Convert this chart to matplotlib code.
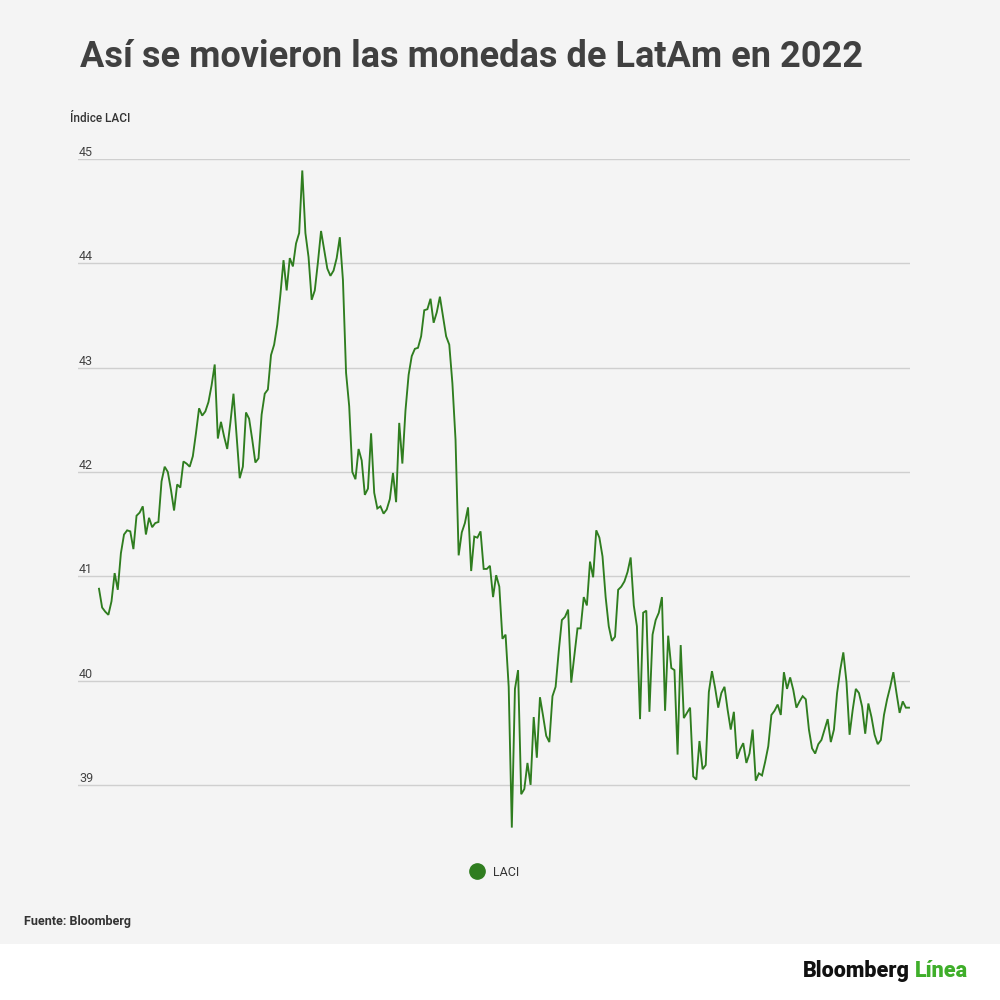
import numpy as np
import matplotlib
matplotlib.use("Agg")
import matplotlib.pyplot as plt
from matplotlib.lines import Line2D
from matplotlib.transforms import blended_transform_factory, offset_copy

# ---- data (LACI index, trading days 2022) ----
laci_part1 = [40.88, 40.70, 40.66, 40.63, 40.76, 41.03, 40.87, 41.22, 41.40, 41.44,
              41.43, 41.26, 41.58, 41.61, 41.67, 41.40, 41.56, 41.47, 41.51, 41.52,
              41.91, 42.05, 42.00, 41.83, 41.63, 41.88, 41.85, 42.10, 42.08, 42.05,
              42.15, 42.37, 42.61, 42.54, 42.58, 42.67, 42.83, 43.03, 42.32, 42.48,
              42.34, 42.22, 42.47, 42.75, 42.34, 41.94, 42.05, 42.57, 42.51, 42.31,
              42.09, 42.13, 42.55, 42.75, 42.79, 43.12, 43.22, 43.41, 43.70, 44.03,
              43.74, 44.05, 43.97, 44.19, 44.29, 44.89, 44.29, 44.06, 43.65, 43.74,
              44.01, 44.31, 44.13, 43.95, 43.88, 43.93, 44.05, 44.25, 43.84, 42.95,
              42.63, 42.00, 41.93]
laci_part2 = [42.22, 42.11, 41.78, 41.84, 42.37, 41.80, 41.65, 41.67, 41.60, 41.64,
              41.74, 41.99, 41.71, 42.47, 42.08, 42.59, 42.93, 43.11, 43.18, 43.19,
              43.30, 43.55, 43.56, 43.66, 43.43, 43.53, 43.68, 43.49, 43.30, 43.22,
              42.85, 42.31, 41.20, 41.42, 41.51, 41.66, 41.05, 41.38, 41.37, 41.43,
              41.07, 41.07, 41.10, 40.80, 41.01, 40.90, 40.40, 40.44, 39.94, 38.59,
              39.92, 40.10, 38.91, 38.96, 39.21, 39.00, 39.65, 39.26, 39.84, 39.66,
              39.47, 39.41, 39.85, 39.94, 40.28, 40.58, 40.61, 40.68, 39.98, 40.24,
              40.50, 40.50, 40.80, 40.72, 41.14, 40.99, 41.44, 41.37]
laci_part3 = [41.19, 40.80, 40.52, 40.38, 40.42, 40.87, 40.90, 40.95, 41.04, 41.18,
              40.72, 40.52, 39.63, 40.65, 40.67, 39.70, 40.44, 40.58, 40.65, 40.80,
              39.71, 40.43, 40.12, 40.10, 39.29, 40.34, 39.64, 39.69, 39.74, 39.08,
              39.05, 39.42, 39.15, 39.19, 39.89, 40.09, 39.93, 39.74, 39.88, 39.94,
              39.72, 39.53, 39.70, 39.25, 39.34, 39.40, 39.21, 39.30, 39.53, 39.04,
              39.11, 39.09, 39.22, 39.37, 39.67, 39.71, 39.77, 39.67, 40.08, 39.92,
              40.03, 39.91, 39.74, 39.80, 39.85, 39.82, 39.53, 39.35, 39.30, 39.39,
              39.43, 39.53, 39.63, 39.41, 39.53, 39.88, 40.10, 40.27, 39.99, 39.48,
              39.72, 39.92, 39.88, 39.75, 39.49, 39.78, 39.65, 39.48, 39.39, 39.43,
              39.67, 39.82, 39.94, 40.08, 39.88, 39.69, 39.80, 39.74, 39.74]
laci = laci_part1 + laci_part2 + laci_part3
days = list(range(len(laci)))
y_ticks = [39, 40, 41, 42, 43, 44, 45]
y_tick_labels = ["39", "40", "41", "42", "43", "44", "45"]
series_name = "LACI"
title = "Así se movieron las monedas de LatAm en 2022"
y_title = "Índice LACI"
source = "Fuente: Bloomberg"

# ---- style ----
plt.rcParams['font.family'] = ['Roboto', 'DejaVu Sans']
BG = "#f4f4f4"
GREEN = "#2f7d1f"
W, H = 1000, 1000
fig = plt.figure(figsize=(10, 10), dpi=100)
fig.patch.set_facecolor("white")

# gray panel (everything above footer)
fig.patches.append(plt.Rectangle((0, 1 - 944 / H), 1, 944 / H, transform=fig.transFigure,
                                 facecolor=BG, edgecolor="none", zorder=-5))

ax_left, ax_right = 78 / W, 910 / W
ax_top, ax_bottom = 159 / H, 837 / H
ax = fig.add_axes([ax_left, 1 - ax_bottom, ax_right - ax_left, ax_bottom - ax_top])
ax.set_facecolor("none")
ax.set_zorder(2)

ax.plot(days, laci, color=GREEN, lw=1.35, solid_joinstyle="miter", zorder=3)

ax.set_ylim(38.5, 45.0)
n = len(laci) - 1
px_per_day = 810 / n
ax.set_xlim(-21 / px_per_day, n + 1 / px_per_day)

for s in ax.spines.values():
    s.set_visible(False)
ax.set_xticks([])
ax.set_yticks(y_ticks)
ax.tick_params(axis="y", length=0, labelleft=False)
ax.yaxis.grid(True, color="#cfcfcf", lw=1.0)
ax.set_axisbelow(True)

trans = blended_transform_factory(ax.transAxes, ax.transData)
trans = offset_copy(trans, fig=fig, x=1, y=0, units="dots")
for v, lab in zip(y_ticks, y_tick_labels):
    ax.text(0.0, v, lab, transform=trans, ha="left", va="bottom",
            fontsize=9, color="#444444")

# titles
fig.text(80 / W, 1 - 57 / H, title, ha="left", va="center", fontsize=26,
         fontweight="bold", color="#404040")
fig.text(70 / W, 1 - 119 / H, y_title, ha="left", va="center", fontsize=8.5,
         color="#333333", fontweight="medium")
fig.text(24 / W, 1 - 921 / H, source, ha="left", va="center", fontsize=9,
         color="#333333", fontweight="bold")

# legend
handle = Line2D([], [], marker="o", color=GREEN, markersize=11, lw=0)
leg = fig.legend([handle], [series_name], loc="center", bbox_to_anchor=(492 / W, 1 - 872 / H),
                 frameon=False, fontsize=9, handletextpad=0.3, labelcolor="#333333")

# footer logo
t1 = fig.text(803 / W, 1 - 971 / H, "Bloomberg", ha="left", va="center", fontsize=15.5,
              fontweight="heavy", color="#111111")
fig.canvas.draw()
bb = t1.get_window_extent()
fig.text((bb.x1 + 5) / W, 1 - 971 / H, "Línea", ha="left", va="center", fontsize=15.5,
         fontweight="heavy", color="#3fae2a")

fig.savefig("out.png", dpi=100, facecolor=fig.get_facecolor())
